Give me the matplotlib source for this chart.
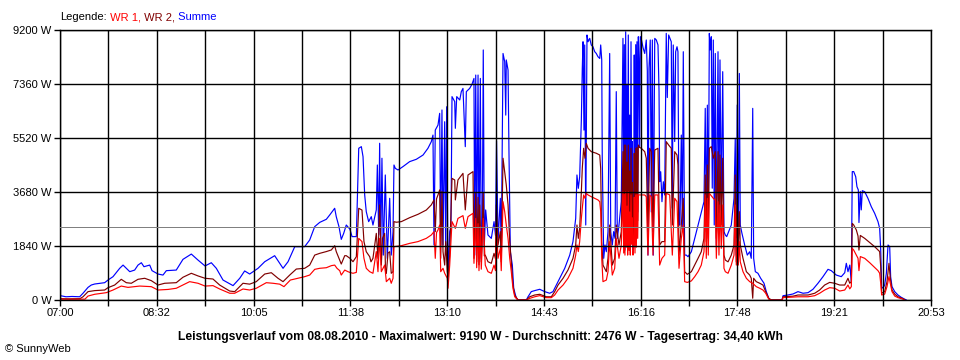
import matplotlib.pyplot as plt
import numpy as np

plt.rcParams['font.family'] = ['Liberation Sans', 'DejaVu Sans']

# time in minutes after 07:00, power in W (08.08.2010)
summe = [(0.0,150),(5.7,110),(11.5,120),(18.8,110),(22.0,230),(26.8,430),(29.9,510),(33.2,545),(42.7,590),(45.9,680),(50.7,795),(57.1,1080),(60.3,1190),(63.4,1080),(66.7,965),(71.4,1020),(74.6,1190),(77.8,1270),(80.3,1135),(85.8,1190),(88.0,1000),(93.7,885),(98.5,850),(101.7,1000),(111.2,1020),(117.6,1385),(125.6,1565),(132.0,1360),(138.7,1160),(144.7,1270),(149.5,1080),(155.9,680),(165.5,490),(171.9,740),(176.6,990),(181.4,885),(189.4,1080),(195.8,1305),(205.3,1510),(210.1,1250),(213.3,1080),(218.1,1305),(224.5,1817),(234.0,1817),(238.8,2045),(243.6,2500),(248.4,2645),(254.7,2750),(257.9,2895),(262.7,3125),(264.2,2840),(266.8,2500),(269.0,2066),(271.3,2270),(273.8,2555),(277.3,2410),(279.3,2160),(283.4,2160),(285.7,5170),(288.2,5225),(289.8,4885),(291.4,3580),(292.9,3010),(295.2,2670),(297.7,2840),(299.3,2555),(302.5,3070),(303.5,4600),(304.8,2215),(305.7,5340),(306.7,1645),(307.9,4830),(309.2,1530),(311.1,4260),(313.0,1420),(315.3,3465),(316.8,1530),(318.5,2330),(319.4,4600),(320.7,4485),(323.3,4430),(328.0,4545),(334.4,4715),(340.8,4795),(347.2,4940),(351.9,5170),(355.1,5395),(356.7,5620),(357.7,1875),(358.9,5790),(361.5,5960),(363.1,6360),(364.1,1875),(365.3,6475),(366.3,1875),(367.9,6075),(368.9,1530),(369.8,6585),(371.1,680),(372.7,2330),(373.9,2500),(374.9,6930),(377.5,6760),(378.1,5850),(379.4,6930),(382.3,6815),(383.8,7100),(385.4,7210),(387.6,5225),(388.6,7100),(391.8,7210),(394.0,7350),(395.9,7550),(396.6,1530),(397.6,7665),(398.5,1875),(399.8,7665),(400.7,1420),(402.0,7550),(402.9,1420),(403.9,2500),(404.8,8520),(405.8,1875),(407.1,3070),(409.3,2215),(412.5,2100),(415.1,2670),(416.5,2200),(417.5,5420),(418.9,1990),(421.1,3465),(422.0,1420),(423.7,8400),(425.3,8120),(426.3,6300),(426.8,8180),(428.5,7835),(429.4,5000),(430.7,1645),(432.6,1190),(433.9,400),(436.4,60),(438.5,0),(446.0,0),(447.6,110),(450.7,285),(454.0,320),(458.8,365),(463.6,285),(468.3,230),(471.5,285),(474.7,510),(477.9,740),(482.7,1080),(487.5,1530),(490.6,1990),(493.2,2780),(494.4,4260),(495.7,3805),(497.0,4200),(498.6,6130),(499.5,7890),(500.2,8800),(501.1,5790),(501.8,8690),(502.8,2555),(504.0,9030),(505.0,8800),(506.6,8915),(508.1,8690),(509.7,8630),(511.4,8460),(512.9,8400),(514.5,8290),(516.2,8230),(517.1,8690),(518.1,8180),(518.6,4830),(520.0,1420),(521.2,1875),(522.5,1645),(524.1,2330),(525.7,8400),(526.7,2330),(528.2,1875),(529.5,2330),(530.8,2100),(532.0,7100),(533.0,2100),(534.6,2555),(536.8,3350),(538.4,8915),(539.1,2300),(539.7,8700),(540.3,1700),(541.0,9140),(541.6,2500),(542.3,7350),(542.9,1900),(543.5,9030),(544.2,2200),(544.8,6300),(545.4,1800),(546.1,8800),(546.8,2600),(547.3,5400),(548.0,1700),(548.7,3125),(549.2,8350),(549.9,2000),(550.6,8700),(551.2,2555),(551.8,8800),(552.5,3000),(553.1,8970),(553.7,8230),(554.4,5200),(555.0,8970),(555.9,8900),(557.6,8600),(559.2,8400),(560.7,8860),(561.7,7800),(562.3,1530),(563.3,7900),(564.5,8860),(565.5,3000),(566.5,8860),(567.4,1530),(568.8,8915),(570.3,8860),(571.9,8690),(572.9,7100),(573.5,4030),(574.5,4370),(575.7,3350),(577.0,4030),(578.3,3580),(579.8,9085),(580.8,6900),(582.1,9030),(583.4,8915),(584.6,8800),(585.6,3130),(586.5,8690),(587.9,5400),(588.8,8460),(590.1,8630),(591.0,8460),(592.0,2555),(592.9,2555),(594.2,5620),(595.2,2440),(596.1,8460),(597.4,1530),(599.0,1530),(600.6,1475),(603.8,1645),(607.0,2100),(610.2,2555),(613.3,3010),(615.9,3350),(617.1,6530),(618.1,2330),(619.1,6640),(620.0,2330),(621.0,9085),(621.9,8520),(622.9,8970),(623.8,3810),(624.8,8860),(625.7,2555),(626.7,8400),(627.7,1875),(629.3,8460),(630.2,2980),(631.2,8180),(632.4,3070),(633.8,7780),(635.0,2330),(636.3,2215),(637.6,2160),(639.5,2330),(642.0,2555),(644.6,3465),(645.8,5510),(646.8,1530),(647.7,6645),(648.7,2100),(649.7,7720),(650.6,2555),(652.2,2270),(654.8,1875),(657.3,1530),(659.6,1645),(661.1,1420),(662.5,6530),(663.4,1420),(665.0,965),(667.5,910),(670.1,740),(673.3,570),(675.5,285),(677.8,60),(679.5,0),(690.5,0),(691.5,147),(696.2,170),(701.0,205),(705.8,285),(710.6,230),(715.4,250),(720.1,365),(724.9,570),(729.7,795),(734.5,1045),(737.6,1000),(742.4,850),(747.2,795),(750.5,930),(752.0,1250),(753.6,965),(755.3,1190),(756.8,625),(757.7,4375),(759.1,4375),(761.0,4200),(762.2,3860),(763.5,3750),(764.1,2640),(765.4,3700),(766.3,3070),(767.3,3725),(769.6,3690),(772.7,3465),(775.9,3180),(779.1,2955),(782.3,2670),(783.9,2440),(784.9,1705),(785.8,455),(787.1,400),(788.7,510),(790.3,910),(791.9,1875),(793.5,1817),(794.4,795),(795.7,455),(798.3,285),(801.4,170),(804.6,90),(809.4,0)]

wr2 = [(0.0,45),(9.6,40),(19.1,45),(22.0,110),(26.8,285),(33.2,320),(42.7,340),(45.9,420),(52.3,510),(58.6,705),(63.4,590),(68.2,570),(74.6,705),(81.0,740),(87.3,660),(93.7,510),(100.1,570),(111.2,590),(117.6,775),(125.6,910),(132.0,820),(138.7,740),(146.3,715),(152.7,510),(162.3,305),(167.1,285),(175.0,570),(181.4,540),(187.7,625),(195.8,885),(202.1,930),(208.5,740),(213.3,625),(219.7,850),(226.0,1055),(234.0,1080),(238.8,1190),(243.6,1530),(248.4,1590),(254.7,1650),(259.5,1705),(262.7,1850),(264.2,1650),(266.8,1420),(269.0,1225),(272.3,1510),(273.8,1510),(277.3,1420),(280.2,1305),(283.4,1475),(285.7,3125),(288.8,3065),(290.7,1990),(292.9,1645),(296.2,1475),(297.4,1300),(299.3,1420),(302.5,2270),(304.1,1420),(305.7,3240),(307.3,1190),(308.4,2100),(310.5,2270),(311.3,1000),(312.1,910),(313.7,1600),(315.3,1645),(316.8,910),(318.5,965),(319.4,2670),(321.6,2650),(326.4,2670),(334.4,2805),(342.4,2920),(350.3,3065),(355.1,3240),(357.7,3410),(358.9,2330),(360.1,3450),(361.5,3580),(363.1,3750),(364.1,1420),(365.3,3700),(366.3,1645),(367.9,1190),(368.9,1990),(370.4,965),(371.1,800),(372.7,1530),(374.9,4145),(377.5,4090),(378.1,3410),(380.6,4090),(385.4,4315),(387.6,3070),(390.2,4260),(395.0,4375),(395.9,1420),(397.6,3635),(398.5,1300),(399.8,3500),(400.7,1200),(401.4,3240),(402.9,1300),(404.8,3650),(405.8,1500),(406.7,1530),(409.3,1305),(412.5,1250),(415.1,1590),(416.5,1400),(417.3,3240),(418.9,1875),(421.1,2330),(422.0,1300),(423.7,4830),(425.3,4375),(426.8,3920),(428.5,3240),(430.1,2000),(431.6,1305),(433.2,510),(434.9,170),(438.0,0),(446.0,0),(449.2,110),(454.0,170),(458.8,195),(465.1,110),(469.9,110),(473.1,285),(476.3,510),(481.1,740),(485.8,1020),(490.6,1420),(493.2,1875),(494.4,2555),(495.7,2100),(497.0,2440),(498.6,3690),(499.5,4485),(500.8,5170),(502.1,4830),(503.3,5340),(505.0,5170),(508.1,5055),(512.9,5000),(516.2,4940),(517.1,4480),(518.1,2000),(519.3,1190),(522.5,965),(524.1,1420),(525.7,2555),(528.2,1190),(530.5,1420),(532.0,2555),(534.6,1875),(536.8,2330),(538.4,5055),(539.1,2100),(539.7,5280),(540.3,1990),(541.0,5280),(541.6,2300),(542.3,4700),(542.9,2000),(543.5,5280),(544.2,2200),(544.8,4400),(545.4,1990),(546.1,5170),(546.8,2400),(547.3,4000),(548.0,2000),(548.7,2600),(549.2,5000),(549.9,2100),(550.6,5170),(551.2,2300),(551.8,5200),(552.5,2700),(553.1,5280),(554.2,5200),(555.9,5170),(559.2,5055),(560.7,4830),(562.3,2330),(564.0,5170),(565.5,5055),(567.1,2330),(568.8,5110),(571.9,5170),(573.5,1875),(575.7,1990),(578.3,1990),(579.8,5395),(582.1,5280),(584.6,5170),(585.6,2555),(587.9,5055),(590.1,4940),(591.0,4600),(592.0,1530),(594.2,2555),(596.1,3465),(597.4,965),(599.9,875),(603.8,965),(607.0,1190),(610.2,1420),(613.3,1645),(615.9,2100),(617.1,4260),(618.1,1990),(619.1,4600),(620.0,2100),(621.0,5170),(622.9,5225),(624.8,4830),(626.7,5055),(627.7,2100),(629.3,5055),(630.2,2330),(631.2,4940),(632.4,2555),(633.8,4830),(635.0,1530),(636.3,1360),(638.9,1300),(642.0,1530),(644.6,1875),(645.8,4260),(646.8,1300),(647.7,3465),(648.7,1645),(649.7,3010),(650.6,1875),(653.2,1420),(656.4,965),(659.6,850),(661.1,740),(662.5,60),(663.4,740),(665.9,625),(669.2,570),(672.3,510),(674.9,285),(677.8,60),(680.3,0),(690.5,0),(691.5,110),(701.0,130),(705.8,170),(715.4,170),(721.8,230),(726.5,340),(731.3,510),(736.1,600),(740.9,570),(745.7,510),(750.5,510),(753.6,740),(755.3,570),(756.8,625),(757.7,2610),(759.1,2555),(761.6,2385),(763.2,2180),(764.1,1700),(765.4,2200),(769.6,2100),(774.4,1955),(779.1,1817),(782.3,1705),(783.9,1650),(784.9,1135),(785.8,230),(788.7,285),(790.9,625),(792.8,1250),(794.1,740),(795.7,340),(798.3,200),(801.4,110),(806.2,45),(807.8,0)]

wr1 = [(0.0,30),(9.6,25),(23.9,30),(26.8,135),(33.2,195),(44.3,250),(50.7,340),(58.6,475),(65.0,430),(76.2,475),(87.3,455),(93.7,340),(103.3,360),(111.2,400),(124.0,625),(132.0,570),(138.7,475),(146.3,490),(152.7,375),(162.3,230),(167.1,230),(175.0,375),(181.4,340),(187.7,400),(197.3,590),(203.7,570),(210.1,540),(214.2,455),(220.3,680),(227.6,740),(234.0,795),(238.8,850),(243.6,1045),(248.4,1080),(254.7,1100),(259.5,1170),(262.7,1190),(264.9,1080),(267.5,1000),(269.0,850),(272.3,1020),(275.4,965),(277.3,940),(280.2,910),(283.4,940),(285.7,2100),(288.8,1990),(290.7,1420),(292.9,1080),(296.2,965),(299.3,910),(302.5,1650),(304.1,965),(305.7,2100),(307.3,965),(310.5,1190),(312.1,625),(315.3,740),(316.8,570),(318.5,740),(319.4,1817),(326.4,1850),(334.4,1930),(342.4,1990),(350.3,2100),(355.1,2215),(357.7,2330),(358.9,1420),(360.1,2300),(361.5,2385),(363.1,2555),(364.1,965),(366.3,1080),(367.9,910),(370.4,740),(371.1,400),(372.7,1190),(374.9,2670),(378.1,2440),(380.6,2780),(385.4,2875),(387.6,2440),(390.2,2840),(395.0,2955),(395.9,1250),(397.6,2780),(398.5,1100),(399.8,2600),(400.7,1000),(402.0,2500),(402.9,1050),(404.8,2780),(406.7,1190),(409.3,965),(412.5,910),(415.1,1190),(416.5,1000),(417.3,2555),(418.9,1420),(421.1,1760),(422.0,1000),(423.7,3350),(425.3,3010),(426.8,2555),(428.5,2100),(430.1,1420),(431.6,965),(433.2,400),(434.9,110),(438.0,0),(446.0,0),(449.2,55),(454.0,110),(458.8,150),(465.1,80),(469.9,80),(473.1,170),(476.3,340),(481.1,510),(485.8,740),(490.6,1080),(493.2,1530),(494.4,1875),(495.7,1650),(497.0,1990),(498.6,2780),(499.5,3125),(500.8,3580),(502.1,3465),(503.3,3635),(505.0,3580),(508.1,3520),(511.4,3465),(514.5,3410),(516.2,3350),(517.1,3010),(518.1,1420),(519.3,625),(522.5,680),(524.1,965),(525.7,1990),(528.2,850),(530.5,1080),(532.0,2100),(534.6,1420),(536.8,1875),(538.4,3690),(539.1,1600),(539.7,3600),(540.3,1530),(541.0,3690),(541.6,1800),(542.3,3200),(542.9,1530),(543.5,3690),(544.2,1700),(544.8,3000),(545.4,1530),(546.1,3580),(546.8,1900),(547.3,2800),(548.0,1530),(548.7,1900),(549.2,3500),(549.9,1600),(550.6,3580),(551.2,1800),(551.8,3600),(552.5,2100),(553.1,3580),(555.9,3580),(559.2,3580),(560.7,3520),(562.3,1530),(564.0,3580),(565.5,3520),(567.1,1530),(568.8,3580),(571.9,3580),(573.5,1190),(575.7,1420),(578.3,1530),(579.8,3635),(583.1,3580),(585.6,1530),(587.9,3465),(590.1,3350),(592.0,1080),(594.2,2100),(596.1,2555),(597.4,625),(599.9,600),(603.8,650),(607.0,795),(610.2,965),(613.3,1190),(615.9,1650),(617.1,3580),(618.1,1420),(619.1,3465),(620.0,1530),(621.0,3635),(624.8,3465),(626.7,3400),(627.7,1420),(629.3,3350),(630.2,1530),(631.2,3240),(632.4,1760),(633.8,3240),(635.0,1080),(636.3,965),(638.9,910),(642.0,1190),(644.6,1530),(645.8,3240),(646.8,1190),(647.7,2100),(648.7,1190),(649.7,1990),(650.6,1300),(653.2,965),(656.4,740),(659.6,625),(662.5,570),(665.9,455),(669.2,400),(672.3,340),(674.9,230),(677.8,30),(680.3,0),(690.5,0),(691.5,80),(705.8,110),(715.4,110),(721.8,147),(726.5,230),(731.3,340),(736.1,420),(740.9,400),(745.7,305),(750.5,340),(753.6,510),(755.3,380),(756.8,455),(757.7,1760),(759.1,1700),(761.6,1530),(763.2,1420),(764.1,1000),(765.4,1480),(769.6,1420),(774.4,1270),(779.1,1110),(782.3,1000),(783.9,910),(784.9,570),(785.8,170),(788.7,200),(790.9,455),(792.8,795),(794.1,570),(795.7,285),(798.3,135),(801.4,80),(806.2,30),(807.8,0)]

durchschnitt = 2476  # W, grey line
x_labels = ['07:00', '08:32', '10:05', '11:38', '13:10', '14:43', '16:16', '17:48', '19:21', '20:53']
day_minutes = 833  # 07:00 -> 20:53
y_step = 1840
y_max = 9200

fig = plt.figure(figsize=(9.6, 3.6), dpi=100)
ax = fig.add_axes([60/960, 60/360, 871/960, 270/360])

# blue first, then dark red, red on top (like the original)
for pts, col in ((summe, '#0000ff'), (wr2, '#800000'), (wr1, '#ff0000')):
    t, w = zip(*pts)
    ax.plot(t, w, color=col, lw=0.85)

ax.axhline(durchschnitt, color='#808080', lw=0.7, zorder=3, antialiased=False)

ax.set_xlim(0, day_minutes)
ax.set_ylim(0, y_max)
xt = np.linspace(0, day_minutes, 2 * len(x_labels) - 1)
ax.set_xticks(xt)
lbls = []
for i in range(len(xt)):
    lbls.append(x_labels[i // 2] if i % 2 == 0 else '')
ax.set_xticklabels(lbls)
yt = np.arange(0, y_max + 1, y_step)
ax.set_yticks(yt)
ax.set_yticklabels([f'{v} W' for v in yt])

ax.grid(True, color='black', lw=1)
ax.set_axisbelow(False)
ax.tick_params(direction='out', length=4, width=1, color='black', labelsize=8, pad=2)
for s in ax.spines.values():
    s.set_color('black')
    s.set_linewidth(1)

# legend line at the top
t0 = fig.text(60/960, 1 - 17/360, 'Legende:', fontsize=8, va='center', color='black')
t1 = ax.annotate(' WR 1,', xy=(1, 0), xycoords=t0, va='bottom', fontsize=8, color='#ff0000')
t2 = ax.annotate(' WR 2,', xy=(1, 0), xycoords=t1, va='bottom', fontsize=8, color='#800000')
ax.annotate(' Summe', xy=(1, 0), xycoords=t2, va='bottom', fontsize=8, color='#0000ff')

fig.text(480/960, 1 - 337/360,
         'Leistungsverlauf vom 08.08.2010 - Maximalwert: 9190 W - Durchschnitt: 2476 W - Tagesertrag: 34,40 kWh',
         ha='center', va='center', fontsize=8.7, fontweight='bold')
fig.text(5/960, 1 - 349/360, '© SunnyWeb', va='center', fontsize=8)

fig.savefig('out.png', dpi=100)
